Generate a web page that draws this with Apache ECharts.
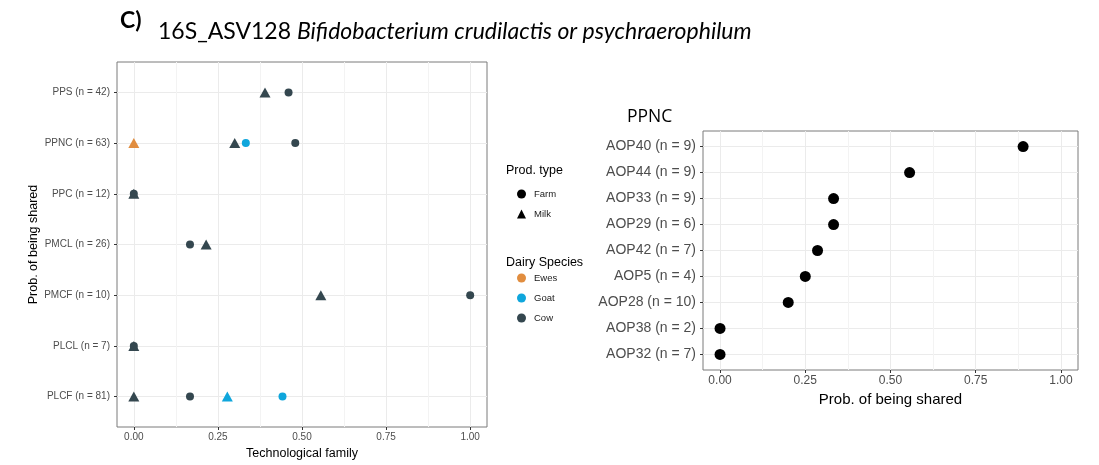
<!DOCTYPE html>
<html>
<head>
<meta charset="utf-8">
<script src="https://cdn.jsdelivr.net/npm/echarts@6/dist/echarts.min.js"></script>
<style>
html,body{margin:0;padding:0;background:#fff;}
#c{width:1099px;height:465px;}
</style>
</head>
<body>
<div id="c"></div>
<script>
// ---------- DATA ----------
const leftCategories = ['PPS (n = 42)', 'PPNC (n = 63)', 'PPC (n = 12)', 'PMCL (n = 26)', 'PMCF (n = 10)', 'PLCL (n = 7)', 'PLCF (n = 81)'];
const cowFarm  = [0.46, 0.48, 0.00, 0.167, 1.00, 0.00, 0.167];
const cowMilk  = [0.39, 0.30, 0.00, 0.215, 0.556, 0.00, 0.00];
const goatFarm = [null, 0.333, null, null, null, null, 0.442];
const goatMilk = [null, null, null, null, null, null, 0.278];
const ewesMilk = [null, 0.00, null, null, null, null, null];

const rightCategories = ['AOP40 (n = 9)', 'AOP44 (n = 9)', 'AOP33 (n = 9)', 'AOP29 (n = 6)', 'AOP42 (n = 7)', 'AOP5 (n = 4)', 'AOP28 (n = 10)', 'AOP38 (n = 2)', 'AOP32 (n = 7)'];
const rightValues = [0.889, 0.556, 0.333, 0.333, 0.286, 0.25, 0.20, 0.00, 0.00];

const xTicks = [0, 0.25, 0.5, 0.75, 1];
const xMinorTicks = [0.125, 0.375, 0.625, 0.875];

const COLORS = { Ewes: '#E18D3F', Goat: '#0FA6DC', Cow: '#34474F' };

// ---------- BUILD ----------
function pts(arr) {
  const out = [];
  arr.forEach((v, i) => { if (v !== null) out.push([v, i]); });
  return out;
}
const AX_FONT = 'Liberation Sans, Arial, sans-serif';
const GRID_MAJOR = '#EBEBEB';
const GRID_MINOR = '#F3F3F3';

function xMajor(gridIndex, labelSize, name, nameSize, nameGap, labelMargin) {
  return {
    type: 'value', gridIndex, min: -0.05, max: 1.05,
    axisLine: { show: false, onZero: false },
    axisTick: { show: true, length: 3, lineStyle: { color: '#333' }, customValues: xTicks },
    axisLabel: { show: true, customValues: xTicks, fontSize: labelSize, color: '#4D4D4D', fontFamily: AX_FONT, margin: labelMargin,
      formatter: v => v.toFixed(2) },
    splitLine: { show: true, lineStyle: { color: GRID_MAJOR, width: 1 } },
    name, nameLocation: 'middle', nameGap,
    nameTextStyle: { fontSize: nameSize, color: '#000', fontFamily: AX_FONT }
  };
}
function xMinor(gridIndex) {
  return {
    type: 'value', gridIndex, min: -0.05, max: 1.05,
    axisLine: { show: false, onZero: false },
    axisTick: { show: false, customValues: xMinorTicks },
    axisLabel: { show: false, customValues: xMinorTicks },
    splitLine: { show: true, lineStyle: { color: GRID_MINOR, width: 1 } }
  };
}
function yCat(gridIndex, cats, labelSize, labelMargin, name, nameSize, nameGap) {
  const idx = cats.map((_, i) => i);
  const ax = {
    type: 'value', gridIndex, inverse: true, min: -0.6, max: cats.length - 1 + 0.6,
    axisLine: { show: false, onZero: false },
    axisTick: { show: true, length: 3, lineStyle: { color: '#333' }, customValues: idx },
    axisLabel: { show: true, customValues: idx, fontSize: labelSize, color: '#4D4D4D', fontFamily: AX_FONT, margin: labelMargin,
      formatter: v => cats[Math.round(v)] },
    splitLine: { show: true, lineStyle: { color: GRID_MAJOR, width: 1 } }
  };
  if (name) {
    ax.name = name; ax.nameLocation = 'middle'; ax.nameGap = nameGap;
    ax.nameTextStyle = { fontSize: nameSize, color: '#000', fontFamily: AX_FONT };
  }
  return ax;
}

function scatter(name, data, color, symbol, size, xi, yi) {
  return {
    type: 'scatter', name, data, symbol, symbolSize: size,
    xAxisIndex: xi, yAxisIndex: yi,
    itemStyle: { color, opacity: 1 },
    emphasis: { disabled: true }, silent: true
  };
}

const CIRC = 8, TRI = [11, 10];

const option = {
  animation: false,
  backgroundColor: '#fff',
  grid: [
    { left: 117, top: 62, width: 370, height: 365, show: true, borderColor: '#7a7a7a', borderWidth: 1, backgroundColor: 'transparent' },
    { left: 703, top: 131, width: 375, height: 239, show: true, borderColor: '#7a7a7a', borderWidth: 1, backgroundColor: 'transparent' }
  ],
  xAxis: [
    xMajor(0, 10, 'Technological family', 12.5, 15, 5),
    xMinor(0),
    xMajor(1, 12, 'Prob. of being shared', 15, 18, 5),
    xMinor(1)
  ],
  yAxis: [
    yCat(0, leftCategories, 10, 7, 'Prob. of being shared', 12.5, 73),
    yCat(1, rightCategories, 14, 7)
  ],
  legend: [
    { orient: 'vertical', left: 512, top: 184, itemWidth: 9, itemHeight: 9, itemGap: 10,
      data: [{ name: 'Farm', icon: 'circle' }, { name: 'Milk', icon: 'triangle' }],
      textStyle: { fontSize: 9.5, color: '#1a1a1a', fontFamily: AX_FONT, padding: [0, 0, 0, 3] },
      selectedMode: false },
    { orient: 'vertical', left: 512, top: 268, itemWidth: 9, itemHeight: 9, itemGap: 10,
      data: [{ name: 'Ewes', icon: 'circle' }, { name: 'Goat', icon: 'circle' }, { name: 'Cow', icon: 'circle' }],
      textStyle: { fontSize: 9.5, color: '#1a1a1a', fontFamily: AX_FONT, padding: [0, 0, 0, 3] },
      selectedMode: false }
  ],
  graphic: [
    { type: 'text', left: 120, top: 9, style: { text: 'C)', font: 'bold 23px Lato, sans-serif', fill: '#000' } },
    { type: 'text', left: 158, top: 20, style: {
        text: '16S_ASV128 {i|Bifidobacterium crudilactis or psychraerophilum}',
        font: '23px Lato, sans-serif', fill: '#000',
        rich: { i: { fontStyle: 'italic', fontSize: 23, fontFamily: 'Lato, sans-serif', fill: '#000' } } } },
    { type: 'text', left: 627, top: 108, style: { text: 'PPNC', font: '17.5px "Open Sans", sans-serif', fill: '#000' } },
    { type: 'text', left: 506, top: 164, style: { text: 'Prod. type', font: '12.5px "Liberation Sans", Arial, sans-serif', fill: '#000' } },
    { type: 'text', left: 506, top: 256, style: { text: 'Dairy Species', font: '12.5px "Liberation Sans", Arial, sans-serif', fill: '#000' } }
  ],
  series: [
    scatter('Cow Farm', pts(cowFarm), COLORS.Cow, 'circle', CIRC, 0, 0),
    scatter('Goat Farm', pts(goatFarm), COLORS.Goat, 'circle', CIRC, 0, 0),
    scatter('Cow Milk', pts(cowMilk), COLORS.Cow, 'triangle', TRI, 0, 0),
    scatter('Goat Milk', pts(goatMilk), COLORS.Goat, 'triangle', TRI, 0, 0),
    scatter('Ewes Milk', pts(ewesMilk), COLORS.Ewes, 'triangle', TRI, 0, 0),
    scatter('AOP', pts(rightValues), '#000', 'circle', 11, 2, 1),
    // legend-only entries
    scatter('Farm', [], '#000', 'circle', CIRC, 0, 0),
    scatter('Milk', [], '#000', 'triangle', TRI, 0, 0),
    scatter('Ewes', [], COLORS.Ewes, 'circle', CIRC, 0, 0),
    scatter('Goat', [], COLORS.Goat, 'circle', CIRC, 0, 0),
    scatter('Cow', [], COLORS.Cow, 'circle', CIRC, 0, 0)
  ]
};

const chart = echarts.init(document.getElementById('c'), null, { renderer: 'canvas' });
chart.setOption(option);
</script>
</body>
</html>
